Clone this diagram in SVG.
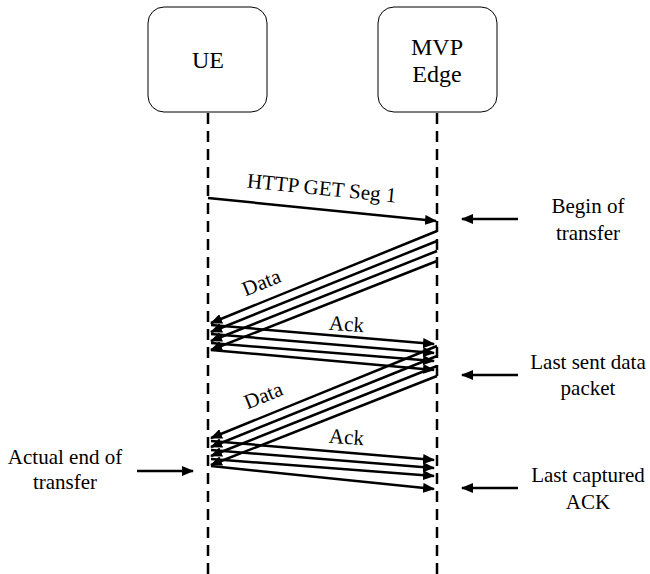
<svg xmlns="http://www.w3.org/2000/svg" width="650" height="574" viewBox="0 0 650 574">
<defs>
<style>
.box{fill:#fff;stroke:#000;stroke-width:1}
.life{stroke:#000;stroke-width:2.5;stroke-dasharray:11 7;fill:none}
.msg{stroke:#000;stroke-width:2.5;fill:none;marker-end:url(#ah)}
</style>
<marker id="ah" markerWidth="12" markerHeight="10" refX="11" refY="5" orient="auto" markerUnits="userSpaceOnUse">
<path d="M0,0 L12,5 L0,10 Z" fill="#000"/>
</marker>
</defs>
<rect width="650" height="574" fill="#fff"/>
<g id="ue" font-family="Liberation Serif" font-size="24" text-anchor="middle">
<rect class="box" x="148" y="7" width="119" height="105" rx="16"/>
<text x="208" y="68">UE</text>
</g>
<g id="mvp" font-family="Liberation Serif" font-size="24" text-anchor="middle">
<rect class="box" x="378" y="7" width="119" height="105" rx="16"/>
<text x="437" y="55">MVP</text>
<text x="437" y="82">Edge</text>
</g>
<g id="lifelines">
<line class="life" x1="208" y1="113" x2="208" y2="574"/>
<line class="life" x1="437" y1="113" x2="437" y2="574"/>
</g>
<g id="connectors">
<line class="msg" x1="208" y1="198" x2="436" y2="221"/>
<line class="msg" x1="437" y1="231" x2="211" y2="323"/>
<line class="msg" x1="437" y1="241" x2="211" y2="332"/>
<line class="msg" x1="437" y1="251" x2="211" y2="341"/>
<line class="msg" x1="437" y1="261" x2="211" y2="350"/>
<line class="msg" x1="211" y1="325" x2="434" y2="344"/>
<line class="msg" x1="211" y1="334" x2="434" y2="353"/>
<line class="msg" x1="211" y1="343" x2="434" y2="361"/>
<line class="msg" x1="211" y1="350" x2="434" y2="370"/>
<line class="msg" x1="437" y1="346" x2="211" y2="438"/>
<line class="msg" x1="437" y1="356" x2="211" y2="447"/>
<line class="msg" x1="437" y1="366" x2="211" y2="456"/>
<line class="msg" x1="437" y1="376" x2="211" y2="465"/>
<line class="msg" x1="211" y1="441" x2="434" y2="460"/>
<line class="msg" x1="211" y1="450" x2="434" y2="468"/>
<line class="msg" x1="211" y1="459" x2="434" y2="476"/>
<line class="msg" x1="211" y1="466" x2="434" y2="489"/>
<line class="msg" x1="518" y1="219" x2="462" y2="219"/>
<line class="msg" x1="518" y1="375" x2="462" y2="375"/>
<line class="msg" x1="518" y1="488" x2="462" y2="488"/>
<line class="msg" x1="137" y1="471" x2="193" y2="471"/>
</g>
<g id="labels" font-family="Liberation Serif" font-size="21" text-anchor="middle">
<text transform="translate(321,195) rotate(5.7)">HTTP GET Seg 1</text>
<text transform="translate(264,289) rotate(-22)">Data</text>
<text transform="translate(346,331) rotate(4)">Ack</text>
<text transform="translate(266,402) rotate(-22)">Data</text>
<text transform="translate(346,444) rotate(4)">Ack</text>
<text x="588" y="213">Begin of</text>
<text x="588" y="240">transfer</text>
<text x="588" y="369">Last sent data</text>
<text x="588" y="395">packet</text>
<text x="588" y="482">Last captured</text>
<text x="588" y="509">ACK</text>
<text x="65" y="464">Actual end of</text>
<text x="65" y="489">transfer</text>
</g>
</svg>
